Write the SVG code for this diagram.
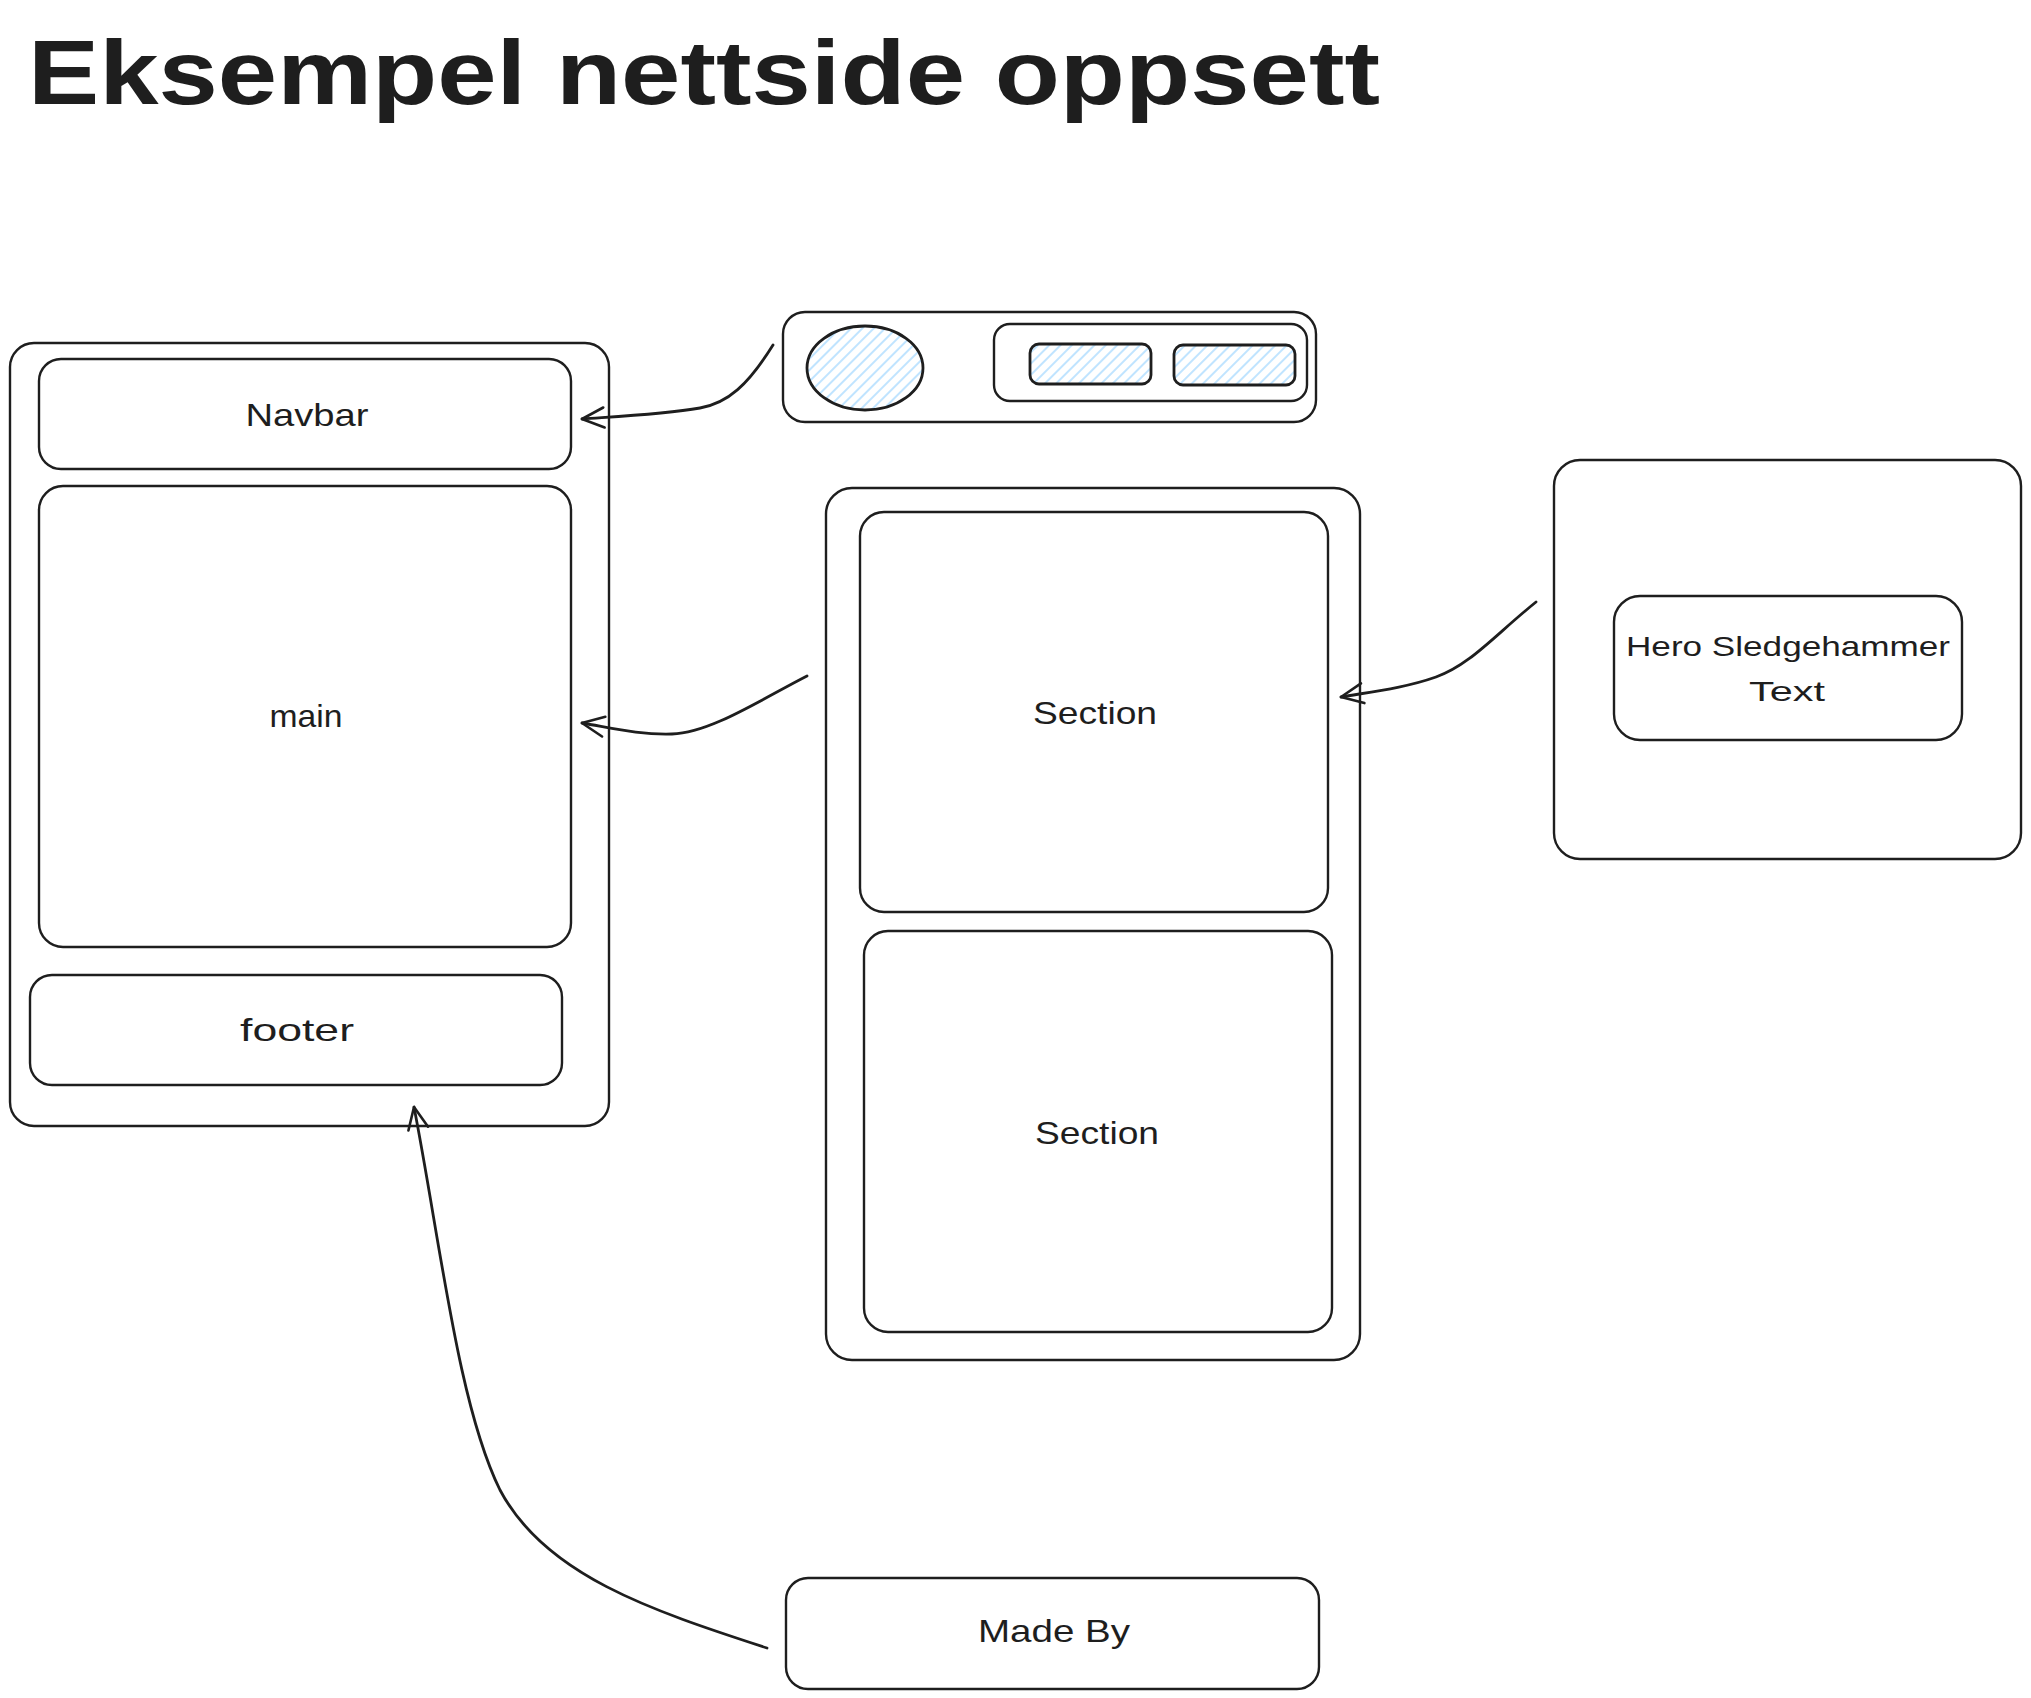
<svg xmlns="http://www.w3.org/2000/svg" width="2031" height="1698" viewBox="0 0 2031 1698">
<style>
.box{fill:none;stroke:#1e1e1e;stroke-width:2.4}
.hatch{fill:url(#hatch);stroke:#1e1e1e;stroke-width:2.8}
.lbl{font-family:"Liberation Sans",Arial,sans-serif;font-size:32px;fill:#1e1e1e;text-anchor:middle}
.hero{font-family:"Liberation Sans",Arial,sans-serif;font-size:28px;fill:#1e1e1e;text-anchor:middle}
.title{font-family:"Liberation Sans",Arial,sans-serif;font-size:90px;font-weight:bold;fill:#1e1e1e}
.conn{fill:none;stroke:#1e1e1e;stroke-width:2.8;stroke-linecap:round}
</style>
<defs>
<pattern id="hatch" patternUnits="userSpaceOnUse" width="8" height="8" patternTransform="rotate(45)">
<line x1="2" y1="0" x2="2" y2="8" stroke="#a5d8ff" stroke-width="1.4"/>
</pattern>
<marker id="arr" viewBox="-26 -14 30 28" markerWidth="30" markerHeight="28" refX="0" refY="0" markerUnits="userSpaceOnUse" orient="auto">
<path d="M-22,-10 L0,0 L-22,10" fill="none" stroke="#1e1e1e" stroke-width="2.6" stroke-linecap="round" stroke-linejoin="round"/>
</marker>
</defs>
<rect width="2031" height="1698" fill="#ffffff"/>
<text id="title" class="title" x="28" y="104" textLength="1352" lengthAdjust="spacingAndGlyphs">Eksempel nettside oppsett</text>

<g id="layout">
<rect class="box" x="10" y="343" width="599" height="783" rx="24"/>
</g>
<g id="navbar">
<rect class="box" x="39" y="359" width="532" height="110" rx="22"/>
<text class="lbl" x="307" y="426" textLength="123" lengthAdjust="spacingAndGlyphs">Navbar</text>
</g>
<g id="main">
<rect class="box" x="39" y="486" width="532" height="461" rx="24"/>
<text class="lbl" x="306" y="727" textLength="73" lengthAdjust="spacingAndGlyphs">main</text>
</g>
<g id="footer">
<rect class="box" x="30" y="975" width="532" height="110" rx="22"/>
<text class="lbl" x="297" y="1041" textLength="114" lengthAdjust="spacingAndGlyphs">footer</text>
</g>

<g id="navbar-detail">
<rect class="box" x="783" y="312" width="533" height="110" rx="22"/>
<ellipse class="hatch" cx="865" cy="368" rx="58" ry="42"/>
<rect class="box" x="994" y="324" width="313" height="77" rx="16"/>
<rect class="hatch" x="1030" y="344" width="121" height="40" rx="9"/>
<rect class="hatch" x="1174" y="345" width="121" height="40" rx="9"/>
</g>

<g id="sections">
<rect class="box" x="826" y="488" width="534" height="872" rx="26"/>
</g>
<g id="section1">
<rect class="box" x="860" y="512" width="468" height="400" rx="24"/>
<text class="lbl" x="1095" y="724" textLength="124" lengthAdjust="spacingAndGlyphs">Section</text>
</g>
<g id="section2">
<rect class="box" x="864" y="931" width="468" height="401" rx="24"/>
<text class="lbl" x="1097" y="1144" textLength="124" lengthAdjust="spacingAndGlyphs">Section</text>
</g>

<g id="hero">
<rect class="box" x="1554" y="460" width="467" height="399" rx="26"/>
</g>
<g id="hero-text">
<rect class="box" x="1614" y="596" width="348" height="144" rx="26"/>
<text class="hero" x="1788" y="656" textLength="324" lengthAdjust="spacingAndGlyphs">Hero Sledgehammer</text>
<text class="hero" x="1787" y="701" textLength="76" lengthAdjust="spacingAndGlyphs">Text</text>
</g>

<g id="made-by">
<rect class="box" x="786" y="1578" width="533" height="111" rx="22"/>
<text class="lbl" x="1054" y="1642" textLength="152" lengthAdjust="spacingAndGlyphs">Made By</text>
</g>

<g id="connectors">
<path class="conn" marker-end="url(#arr)" d="M773,345 C748,385 728,403 700,408 C665,414 625,416 582,419"/>
<path class="conn" marker-end="url(#arr)" d="M807,676 C760,700 710,733 672,734 C640,735 612,728 582,723"/>
<path class="conn" marker-end="url(#arr)" d="M1536,602 C1495,635 1470,665 1436,677 C1405,688 1370,692 1341,697"/>
<path class="conn" marker-end="url(#arr)" d="M767,1648 C650,1610 545,1575 500,1490 C458,1405 440,1240 414,1107"/>
</g>
</svg>
